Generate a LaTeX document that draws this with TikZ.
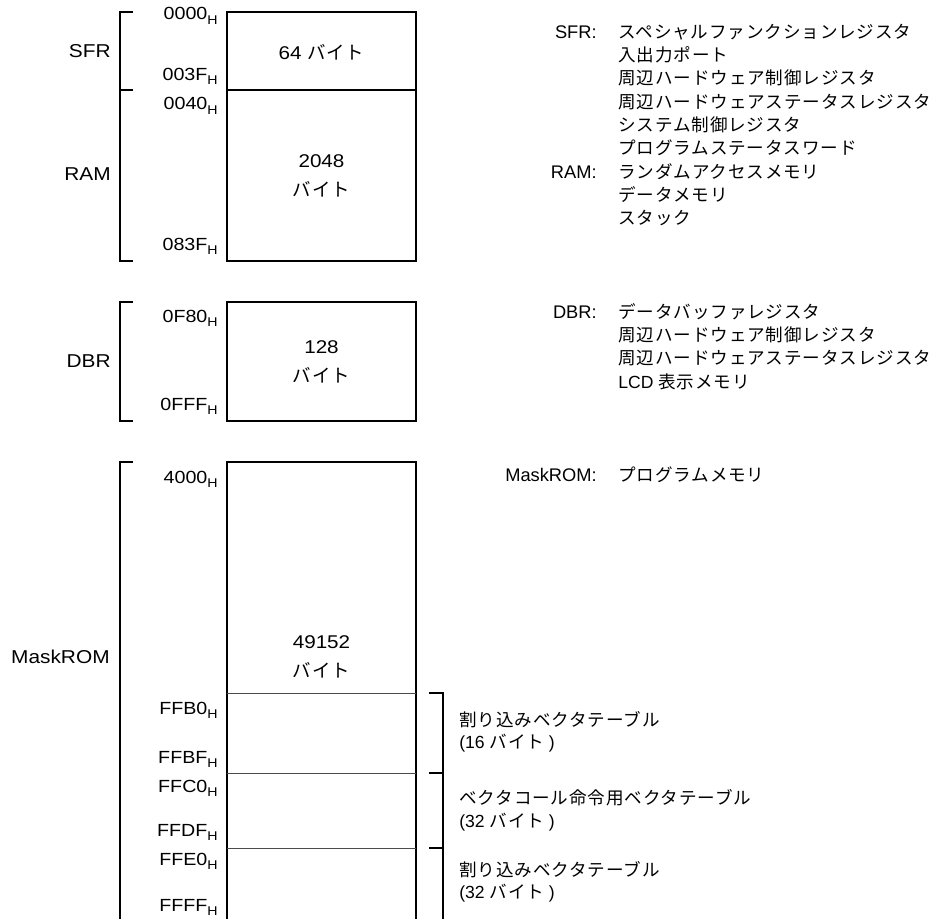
\documentclass[tikz,border=0pt]{standalone}
\usepackage{fontspec}
\setmainfont{Liberation Sans}
\newfontfamily\wide{Liberation Sans}[FakeStretch=1.12]
\newfontfamily\jp{Noto Sans CJK JP}[LetterSpace=5]
\newcommand{\haddr}[1]{#1\raisebox{-2.4pt}{\fontsize{7.2}{8}\selectfont H}}
\tikzset{
  memline/.style={line width=1.6pt},
  thinline/.style={line width=0.5pt, black!70},
  addr/.style={anchor=base east, inner sep=0pt, font=\wide\fontsize{10}{12}\selectfont},
  area/.style={anchor=east, inner sep=0pt, font=\wide\fontsize{10.6}{13}\selectfont},
  size/.style={align=center, inner sep=0pt, font=\wide\fontsize{10.5}{16.5}\selectfont},
  key/.style={anchor=east, inner sep=0pt, font=\fontsize{10.4}{12}\selectfont},
  desc/.style={anchor=west, inner sep=0pt},
}

\begin{document}
\begin{tikzpicture}[x=0.02cm,y=-0.02cm]
    \useasboundingbox (0,0) rectangle (935,919);

    % SFR and RAM
    \draw [memline] (227,12) rectangle (416,261);
    \draw [memline] (227,90) -- (416,90);
    \draw [memline] (133,12) -- (120,12) -- (120,261) -- (133,261);
    \draw [memline] (120,90) -- (133,90);
    \node [area] (sfr) at (111,51) {SFR};
    \node [area] (ram) at (111,174) {RAM};
    \node [size] (sfrsize) at (321.5,52) {64 {\jp バイト}};
    \node [size] (ramsize) at (321.5,176) {2048\\{\jp バイト}};

    % DBR
    \draw [memline] (227,302) rectangle (416,421);
    \draw [memline] (133,302) -- (120,302) -- (120,421) -- (133,421);
    \node [area] (dbr) at (111,361) {DBR};
    \node [size] (dbrsize) at (321.5,361.5) {128\\{\jp バイト}};

    % MaskROM
    \draw [memline] (227,919) -- (227,462) -- (416,462) -- (416,919);
    \draw [memline] (133,462) -- (120,462) -- (120,919);
    \draw [thinline] (227,693) -- (416,693);
    \draw [thinline] (227,773) -- (416,773);
    \draw [thinline] (227,848) -- (416,848);
    \node [area] (rom) at (110,657) {MaskROM};
    \node [size] (romsize) at (321.5,657) {49152\\{\jp バイト}};

    % Vector tables
    \draw [memline] (429,693) -- (443,693) -- (443,919);
    \draw [memline] (429,773) -- (443,773);
    \draw [memline] (429,848) -- (443,848);

    % Addresses
    \node [addr] (a0000) at (218,20) {\haddr{0000}};
    \node [addr] (a003F) at (218,80) {\haddr{003F}};
    \node [addr] (a0040) at (218,110) {\haddr{0040}};
    \node [addr] (a083F) at (218,250) {\haddr{083F}};
    \node [addr] (a0F80) at (218,322) {\haddr{0F80}};
    \node [addr] (a0FFF) at (218,410) {\haddr{0FFF}};
    \node [addr] (a4000) at (218,483) {\haddr{4000}};
    \node [addr] (aFFB0) at (218,714) {\haddr{FFB0}};
    \node [addr] (aFFBF) at (218,763) {\haddr{FFBF}};
    \node [addr] (aFFC0) at (218,792) {\haddr{FFC0}};
    \node [addr] (aFFDF) at (218,836) {\haddr{FFDF}};
    \node [addr] (aFFE0) at (218,865) {\haddr{FFE0}};
    \node [addr] (aFFFF) at (218,911) {\haddr{FFFF}};

    % Descriptions
    \node [key] (sfrkey) at (597,32) {SFR:};
    \node [desc] (sfr1) at (618,32) {\jp スペシャルファンクションレジスタ};
    \node [desc] (sfr2) at (618,55) {\jp 入出力ポート};
    \node [desc] (sfr3) at (618,78) {\jp 周辺ハードウェア制御レジスタ};
    \node [desc] (sfr4) at (618,102) {\jp 周辺ハードウェアステータスレジスタ};
    \node [desc] (sfr5) at (618,125) {\jp システム制御レジスタ};
    \node [desc] (sfr6) at (618,148) {\jp プログラムステータスワード};
    \node [key] (ramkey) at (597,172) {RAM:};
    \node [desc] (ram1) at (618,172) {\jp ランダムアクセスメモリ};
    \node [desc] (ram2) at (618,195) {\jp データメモリ};
    \node [desc] (ram3) at (618,218) {\jp スタック};

    \node [key] (dbrkey) at (597,312) {DBR:};
    \node [desc] (dbr1) at (618,312) {\jp データバッファレジスタ};
    \node [desc] (dbr2) at (618,335) {\jp 周辺ハードウェア制御レジスタ};
    \node [desc] (dbr3) at (618,358) {\jp 周辺ハードウェアステータスレジスタ};
    \node [desc] (dbr4) at (618,382) {LCD {\jp 表示メモリ}};

    \node [key] (romkey) at (597,475) {MaskROM:};
    \node [desc] (rom1) at (618,475) {\jp プログラムメモリ};

    \node [desc] (vec1) at (459,720) {\jp 割り込みベクタテーブル};
    \node [desc] (vec1size) at (459,743) {(16 {\jp バイト} )};
    \node [desc] (vec2) at (459,798) {\jp ベクタコール命令用ベクタテーブル};
    \node [desc] (vec2size) at (459,822) {(32 {\jp バイト} )};
    \node [desc] (vec3) at (459,870) {\jp 割り込みベクタテーブル};
    \node [desc] (vec3size) at (459,893) {(32 {\jp バイト} )};
\end{tikzpicture}
\end{document}
